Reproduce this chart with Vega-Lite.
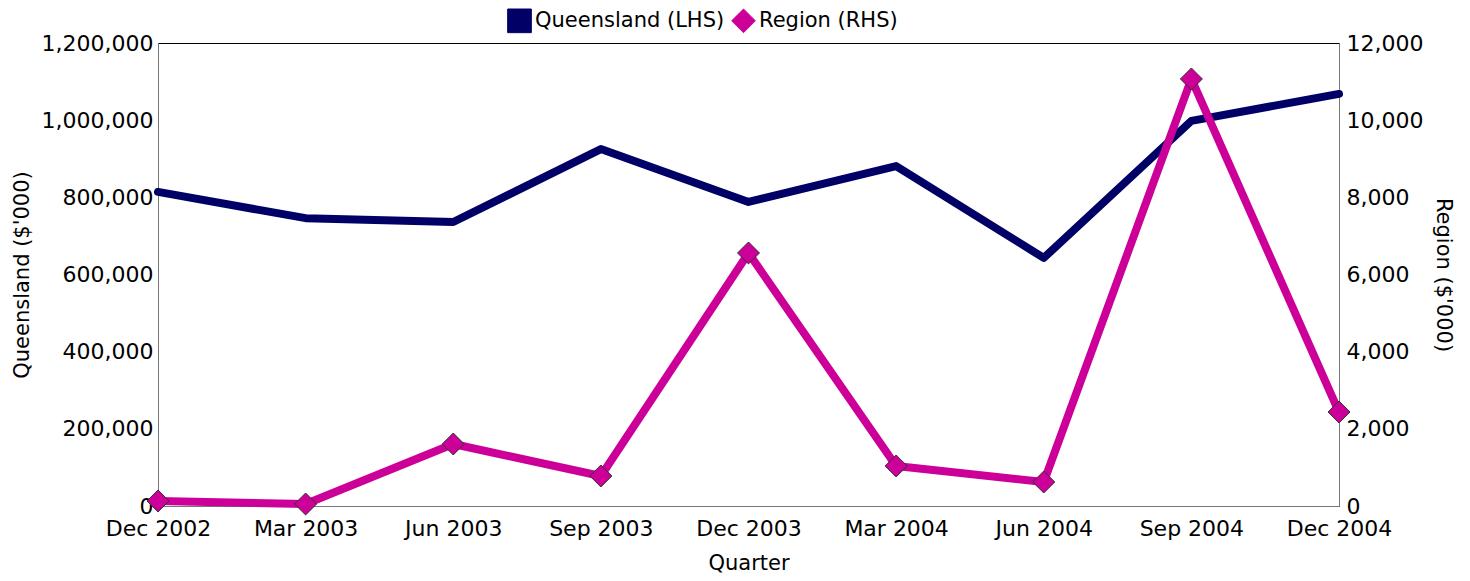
{
  "$schema": "https://vega.github.io/schema/vega-lite/v6.json",
  "width": 1181,
  "height": 463,
  "autosize": {"type": "none"},
  "padding": {"left": 158, "top": 43, "right": 131, "bottom": 75},
  "background": "white",
  "config": {
    "font": "DejaVu Sans",
    "view": {"stroke": "black", "strokeWidth": 1},
    "axis": {
      "labelFont": "DejaVu Sans",
      "labelFontSize": 22,
      "labelColor": "black",
      "titleFont": "DejaVu Sans",
      "titleFontSize": 21,
      "titleFontWeight": "normal",
      "titleColor": "black",
      "grid": false,
      "ticks": false,
      "domainColor": "#777777"
    },
    "legend": {
      "title": null,
      "orient": "none",
      "legendX": 349,
      "legendY": -35,
      "direction": "horizontal",
      "symbolSize": 560,
      "symbolStrokeColor": "#333333",
      "symbolStrokeWidth": 1,
      "symbolOpacity": 1,
      "labelFontSize": 21,
      "labelFont": "DejaVu Sans",
      "labelColor": "black",
      "labelLimit": 400,
      "columnPadding": 4,
      "labelOffset": 3
    }
  },
  "data": {
    "values": [
      {"quarter": "Dec 2002", "series": "Queensland (LHS)", "value": 814000},
      {"quarter": "Mar 2003", "series": "Queensland (LHS)", "value": 746000},
      {"quarter": "Jun 2003", "series": "Queensland (LHS)", "value": 736000},
      {"quarter": "Sep 2003", "series": "Queensland (LHS)", "value": 925000},
      {"quarter": "Dec 2003", "series": "Queensland (LHS)", "value": 788000},
      {"quarter": "Mar 2004", "series": "Queensland (LHS)", "value": 881000},
      {"quarter": "Jun 2004", "series": "Queensland (LHS)", "value": 643000},
      {"quarter": "Sep 2004", "series": "Queensland (LHS)", "value": 998000},
      {"quarter": "Dec 2004", "series": "Queensland (LHS)", "value": 1068000},
      {"quarter": "Dec 2002", "series": "Region (RHS)", "value": 130},
      {"quarter": "Mar 2003", "series": "Region (RHS)", "value": 52},
      {"quarter": "Jun 2003", "series": "Region (RHS)", "value": 1607},
      {"quarter": "Sep 2003", "series": "Region (RHS)", "value": 778},
      {"quarter": "Dec 2003", "series": "Region (RHS)", "value": 6558},
      {"quarter": "Mar 2004", "series": "Region (RHS)", "value": 1037},
      {"quarter": "Jun 2004", "series": "Region (RHS)", "value": 622},
      {"quarter": "Sep 2004", "series": "Region (RHS)", "value": 11068},
      {"quarter": "Dec 2004", "series": "Region (RHS)", "value": 2436}
    ]
  },
  "encoding": {
    "x": {
      "field": "quarter",
      "type": "ordinal",
      "sort": null,
      "scale": {"type": "point", "padding": 0},
      "axis": {"title": "Quarter", "labelAngle": 0, "labelPadding": 12, "titlePadding": 13}
    }
  },
  "layer": [
    {
      "transform": [{"filter": "datum.series === 'Queensland (LHS)'"}],
      "mark": {"type": "line", "strokeWidth": 8, "strokeCap": "round", "strokeJoin": "round"},
      "encoding": {
        "y": {
          "field": "value",
          "type": "quantitative",
          "scale": {"domain": [0, 1200000], "nice": false},
          "axis": {"orient": "left", "title": "Queensland ($'000)", "values": [0, 200000, 400000, 600000, 800000, 1000000, 1200000], "format": ",.0f", "labelPadding": 5, "titlePadding": 9}
        },
        "color": {
          "field": "series",
          "type": "nominal",
          "scale": {"domain": ["Queensland (LHS)", "Region (RHS)"], "range": ["#000066", "#cc0099"]}
        }
      }
    },
    {
      "transform": [{"filter": "datum.series === 'Region (RHS)'"}],
      "encoding": {
        "y": {
          "field": "value",
          "type": "quantitative",
          "scale": {"domain": [0, 12000], "nice": false},
          "axis": {"orient": "right", "title": "Region ($'000)", "values": [0, 2000, 4000, 6000, 8000, 10000, 12000], "format": ",.0f", "labelPadding": 7, "titlePadding": 10}
        }
      },
      "layer": [
        {
          "mark": {"type": "line", "strokeWidth": 8, "strokeCap": "round", "strokeJoin": "round"},
          "encoding": {
            "color": {"field": "series", "type": "nominal"}
          }
        },
        {
          "mark": {"type": "point", "filled": true, "size": 484, "stroke": "#333333", "strokeWidth": 1, "opacity": 1},
          "encoding": {
            "color": {"field": "series", "type": "nominal"},
            "shape": {
              "field": "series",
              "type": "nominal",
              "scale": {"domain": ["Queensland (LHS)", "Region (RHS)"], "range": ["square", "diamond"]}
            }
          }
        }
      ]
    }
  ],
  "resolve": {"scale": {"y": "independent"}}
}
